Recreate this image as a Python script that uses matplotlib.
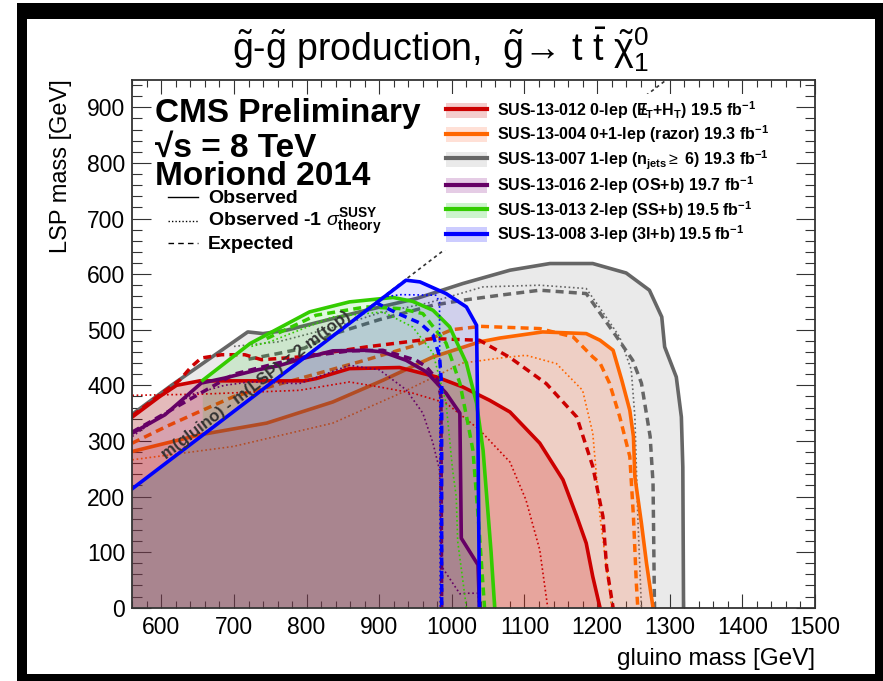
import numpy as np
import matplotlib.pyplot as plt
from matplotlib.patches import Patch, Rectangle
from matplotlib.lines import Line2D
from matplotlib.legend_handler import HandlerTuple

plt.rcParams['font.family'] = ['Liberation Sans', 'DejaVu Sans']
plt.rcParams['mathtext.fontset'] = 'custom'
plt.rcParams['mathtext.rm'] = 'Liberation Sans'
plt.rcParams['mathtext.it'] = 'Liberation Sans:italic'
plt.rcParams['mathtext.bf'] = 'Liberation Sans:bold'
plt.rcParams['mathtext.sf'] = 'Liberation Sans'

# SUS-13-007 1-lep (gray)
gray_obs_x = [560, 614, 719, 740, 772, 836, 882, 951, 1015, 1080, 1135, 1194, 1240, 1272, 1289, 1293, 1309, 1316, 1318, 1319]
gray_obs_y = [348, 400, 496, 493, 499, 520, 535, 556, 583, 607, 619, 619, 602, 571, 523, 469, 415, 343, 253, 0]
gray_exp_x = [720, 760, 797, 836, 900, 974, 1015, 1066, 1121, 1185, 1204, 1227, 1249, 1261, 1273, 1277, 1279]
gray_exp_y = [447, 457, 467, 492, 518, 544, 553, 562, 571, 565, 530, 487, 445, 404, 308, 224, 0]
gray_m1_x = [700, 760, 840, 900, 967, 1043, 1121, 1185, 1204, 1231, 1247, 1252, 1256, 1261]
gray_m1_y = [470, 478, 505, 530, 548, 577, 580, 574, 539, 487, 428, 343, 164, 0]

# SUS-13-004 razor (orange)
orange_obs_x = [560, 653, 745, 836, 905, 974, 1038, 1066, 1125, 1185, 1204, 1222, 1234, 1245, 1250, 1252, 1261, 1268, 1277]
orange_obs_y = [281, 311, 332, 370, 409, 451, 478, 485, 496, 493, 481, 463, 409, 355, 308, 236, 152, 80, 0]
orange_exp_x = [560, 607, 653, 700, 790, 880, 950, 1000, 1040, 1121, 1167, 1194, 1204, 1217, 1231, 1245, 1250, 1254, 1256]
orange_exp_y = [296, 326, 353, 380, 412, 445, 472, 500, 506, 502, 487, 451, 440, 404, 344, 272, 164, 44, 0]
orange_m1_x = [560, 699, 836, 928, 1015, 1066, 1102, 1144, 1180, 1194, 1204, 1220]
orange_m1_y = [266, 290, 332, 385, 440, 449, 454, 439, 391, 314, 164, 0]

# SUS-13-012 0-lep (red)
red_obs_x = [560, 598, 621, 653, 745, 797, 813, 859, 928, 979, 1015, 1052, 1080, 1121, 1153, 1172, 1185, 1194, 1204]
red_obs_y = [343, 380, 400, 408, 408, 408, 412, 430, 432, 415, 397, 373, 352, 296, 230, 164, 116, 56, 0]
red_exp_x = [560, 600, 625, 641, 655, 683, 715, 738, 790, 882, 974, 1038, 1080, 1130, 1172, 1194, 1208, 1213, 1222]
red_exp_y = [345, 385, 409, 433, 449, 455, 455, 446, 451, 469, 484, 481, 450, 403, 343, 254, 164, 74, 0]
red_m1_x = [560, 653, 790, 859, 900, 946, 992, 1038, 1080, 1102, 1121, 1132]
red_m1_y = [382, 384, 391, 406, 397, 386, 368, 320, 262, 194, 104, 0]

# SUS-13-016 2-lep OS (purple)
purple_obs_x = [560, 605, 655, 687, 733, 761, 797, 836, 882, 905, 937, 965, 992, 1011, 1013, 1036, 1038]
purple_obs_y = [314, 347, 404, 413, 428, 435, 449, 462, 463, 460, 445, 424, 386, 350, 125, 77, 0]
purple_exp_x = [560, 700, 760, 800, 860, 905, 951, 965, 980, 985, 986]
purple_exp_y = [316, 420, 440, 452, 462, 463, 445, 433, 410, 380, 0]
purple_m1_x = [560, 641, 687, 722, 790, 859, 900, 937, 960, 974, 983, 986, 1011, 1020, 1036, 1037]
purple_m1_y = [308, 383, 400, 406, 403, 436, 428, 392, 350, 296, 248, 74, 25, 26, 26, 0]

# SUS-13-013 2-lep SS (green)
green_obs_x = [657, 722, 804, 859, 919, 946, 974, 997, 1020, 1034, 1043, 1048, 1054, 1059]
green_obs_y = [409, 475, 532, 550, 558, 551, 535, 505, 440, 368, 283, 200, 100, 0]
green_exp_x = [745, 813, 882, 928, 960, 992, 1011, 1022, 1029, 1037, 1045]
green_exp_y = [484, 526, 541, 538, 529, 476, 404, 332, 283, 150, 0]
green_m1_x = [724, 749, 836, 905, 946, 974, 992, 1001, 1006, 1008, 1015, 1020]
green_m1_y = [470, 478, 523, 532, 505, 458, 368, 248, 200, 120, 50, 0]

# SUS-13-008 3-lep (blue)
blue_obs_x = [560, 937, 956, 992, 1020, 1034, 1036, 1038]
blue_obs_y = [214, 589, 586, 565, 541, 508, 300, 0]
blue_exp_x = [895, 924, 956, 974, 983, 986, 986]
blue_exp_y = [549, 530, 512, 491, 452, 400, 0]
blue_m1_x = [905, 930, 978, 983, 984]
blue_m1_y = [559, 563, 562, 550, 0]

mtop = 173.0

fig = plt.figure(figsize=(8.83, 6.81), dpi=100)
fig.patch.set_facecolor('white')
fig.patches.append(Rectangle((17 / 883, 0), 866 / 883, 678 / 681, transform=fig.transFigure,
                             facecolor='black', edgecolor='none', zorder=-3))
fig.patches.append(Rectangle((27 / 883, 7 / 681), 848 / 883, 655 / 681, transform=fig.transFigure,
                             facecolor='white', edgecolor='none', zorder=-2))

ax = fig.add_axes([132.3 / 883, 1 - 607.7 / 681, 682.7 / 883, 528.2 / 681])
ax.set_xlim(560, 1500)
ax.set_ylim(0, 950)

solid = dict(lw=2.6, ls='-')
dashed = dict(lw=2.5, ls=(0, (2.3, 1.5)))
dotted = dict(lw=1.2, ls=(0, (1, 1.6)))


def fill_region(x, y, color, alpha, z, lead=()):
    px = [p[0] for p in lead] + list(x) + [x[-1], 560]
    py = [p[1] for p in lead] + list(y) + [0, 0]
    ax.fill(px, py, color=color, alpha=alpha, lw=0, zorder=z)


def draw_lines(obs, exp, m1, color, z):
    ax.plot(*m1, color=color, zorder=z, **dotted)
    ax.plot(*exp, color=color, zorder=z, **dashed)
    ax.plot(*obs, color=color, zorder=z, **solid)


c_gray, c_orange, c_red = '#666666', '#ff6600', '#cc0000'
c_purple, c_green, c_blue = '#660066', '#33cc00', '#0000ff'

fill_region(gray_obs_x, gray_obs_y, '#999999', 0.2, 1)
draw_lines((gray_obs_x, gray_obs_y), (gray_exp_x, gray_exp_y), (gray_m1_x, gray_m1_y), c_gray, 2)
fill_region(orange_obs_x, orange_obs_y, '#ff6633', 0.2, 3)
draw_lines((orange_obs_x, orange_obs_y), (orange_exp_x, orange_exp_y), (orange_m1_x, orange_m1_y), c_orange, 4)

fill_region(red_obs_x, red_obs_y, '#cc0000', 0.2, 5)
fill_region(purple_obs_x, purple_obs_y, '#800060', 0.13, 5)
fill_region(green_obs_x, green_obs_y, '#00cc00', 0.12, 5,
            lead=[(560, 214), (green_obs_x[0], green_obs_x[0] - 2 * mtop)])
fill_region(blue_obs_x, blue_obs_y, '#0000ff', 0.11, 5)

# kinematic limit m(gluino) - m(LSP) = 2 m(top)
diag_x = np.array([560, 950 + 2 * mtop])
ax.plot(diag_x, diag_x - 2 * mtop, color='#333333', lw=1.2, ls=(0, (2, 2)), zorder=6)

draw_lines((red_obs_x, red_obs_y), (red_exp_x, red_exp_y), (red_m1_x, red_m1_y), c_red, 7)
draw_lines((purple_obs_x, purple_obs_y), (purple_exp_x, purple_exp_y), (purple_m1_x, purple_m1_y), c_purple, 8)
draw_lines((green_obs_x, green_obs_y), (green_exp_x, green_exp_y), (green_m1_x, green_m1_y), c_green, 9)
draw_lines((blue_obs_x, blue_obs_y), (blue_exp_x, blue_exp_y), (blue_m1_x, blue_m1_y), c_blue, 10)

p1 = ax.transData.transform((600, 600 - 2 * mtop))
p2 = ax.transData.transform((900, 900 - 2 * mtop))
ang = np.degrees(np.arctan2(p2[1] - p1[1], p2[0] - p1[0]))
ax.text(730, 400, 'm(gluino) - m(LSP) = 2 m(top)', rotation=ang, rotation_mode='anchor',
        ha='center', va='center', fontsize=12, fontweight='bold', color='#333333', zorder=11)

# axes styling
ax.set_xticks(np.arange(600, 1501, 100))
ax.set_yticks(np.arange(0, 901, 100))
ax.set_xticks(np.arange(560, 1501, 20), minor=True)
ax.set_yticks(np.arange(0, 951, 20), minor=True)
ax.tick_params(direction='in', top=True, right=True, which='both', width=0.8, color='#333333')
ax.tick_params(axis='x', which='major', length=10, labelsize=16.5, pad=6)
ax.tick_params(axis='x', which='minor', length=5)
ax.tick_params(axis='y', which='major', length=14, labelsize=16.5, pad=5)
ax.tick_params(axis='y', which='minor', length=7)
for s in ax.spines.values():
    s.set_linewidth(1.3)
    s.set_color('#333333')
    s.set_zorder(12)

ax.set_xlabel('gluino mass [GeV]', fontsize=17.5, loc='right')
ax.xaxis.set_label_coords(1.0, -0.097)
ax.xaxis.label.set_va('center')
ax.set_ylabel('LSP mass [GeV]', fontsize=17, loc='top')
ax.yaxis.set_label_coords(-0.105, 1.0)
ax.yaxis.label.set_va('center')

fig.text(0.499, 1 - 61 / 681,
         r'$\tilde{\rm g}$-$\tilde{\rm g}$ production,  $\tilde{\rm g}$→ t $\bar{\rm t}$ $\tilde{\mathrm{\chi}}^{0}_{1}$',
         ha='center', va='baseline', fontsize=27)

# CMS labels
ax.text(0.0334, 0.920, 'CMS Preliminary', transform=ax.transAxes, fontsize=24, fontweight='bold', va='baseline', zorder=15)
ax.text(0.0334, 0.854, '\u221as = 8 TeV', transform=ax.transAxes, fontsize=24, fontweight='bold', va='baseline', zorder=15)
ax.text(0.0334, 0.801, 'Moriond 2014', transform=ax.transAxes, fontsize=24, fontweight='bold', va='baseline', zorder=15)

style_y = [0.766, 0.722, 0.679]
style_names = ['Observed', r'Observed -1 $\sigma^{\mathbf{SUSY}}_{\mathbf{theory}}$', 'Expected']
style_ls = ['-', (0, (1, 1.5)), (0, (4, 3))]
for yy, name, ls in zip(style_y, style_names, style_ls):
    ax.add_line(Line2D([0.0523, 0.0962], [yy + 0.011, yy + 0.011], transform=ax.transAxes,
                       color='black', lw=1.0, ls=ls, zorder=15))
    ax.text(0.111, yy, name, transform=ax.transAxes, fontsize=14, fontweight='bold', va='baseline', zorder=15)

# analysis legend
labels = [
    r'SUS-13-012 0-lep ($\mathbf{E\!\!\!/}_{\mathbf{T}}$+H$_{\mathbf{T}}$) 19.5 fb$^{\mathbf{-1}}$',
    r'SUS-13-004 0+1-lep (razor) 19.3 fb$^{\mathbf{-1}}$',
    r'SUS-13-007 1-lep (n$_{\mathbf{jets}}$$\geq$ 6) 19.3 fb$^{\mathbf{-1}}$',
    r'SUS-13-016 2-lep (OS+b) 19.7 fb$^{\mathbf{-1}}$',
    r'SUS-13-013 2-lep (SS+b) 19.5 fb$^{\mathbf{-1}}$',
    r'SUS-13-008 3-lep (3l+b) 19.5 fb$^{\mathbf{-1}}$',
]
leg_colors = [c_red, c_orange, c_gray, c_purple, c_green, c_blue]
band_colors = ['#cc0000', '#ff6633', '#999999', '#800080', '#00cc00', '#0000ff']
handles = [(Patch(facecolor=b, alpha=0.2, edgecolor='none'), Line2D([], [], color=c, lw=3))
           for b, c in zip(band_colors, leg_colors)]
leg = ax.legend(handles, labels, handler_map={tuple: HandlerTuple(ndivide=1)},
                loc='upper left', bbox_to_anchor=(0.452, 0.972),
                prop={'family': 'Liberation Sans', 'weight': 'bold', 'size': 11.5},
                frameon=True, facecolor='white', edgecolor='none', framealpha=1, fancybox=False,
                handlelength=2.6, handleheight=1.05, handletextpad=0.6, labelspacing=0.18,
                borderpad=0.3, borderaxespad=0)
leg.set_zorder(20)

fig.savefig('out.png', dpi=100)
